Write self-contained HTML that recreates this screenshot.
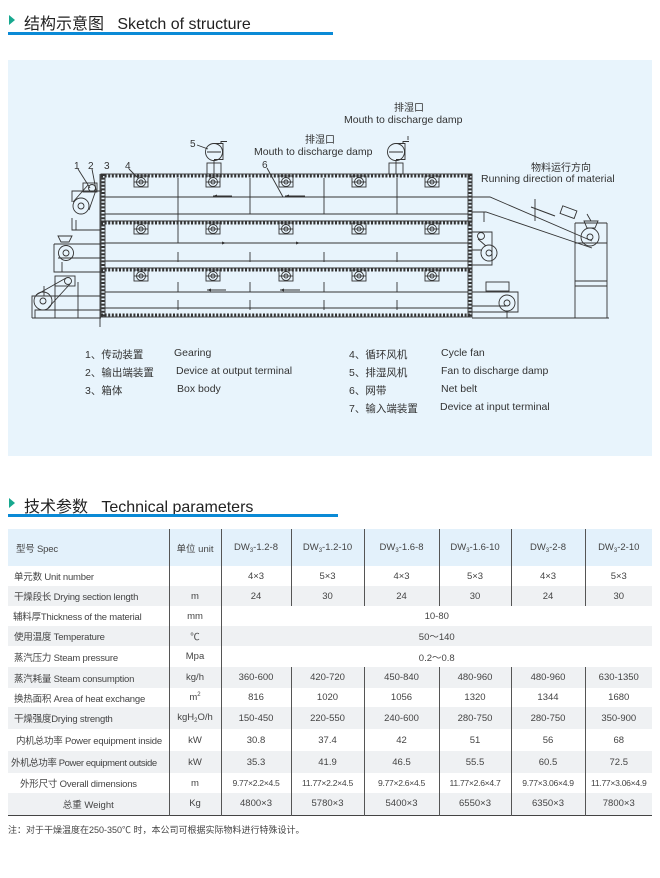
<!DOCTYPE html>
<html><head><meta charset="utf-8"><style>
*{margin:0;padding:0;box-sizing:border-box}
body{width:660px;height:878px;background:#fff;position:relative;font-family:"Liberation Sans","Noto Sans CJK SC",sans-serif;color:#333;overflow:hidden}
.h{position:absolute;left:8px;font-size:16px;color:#222;white-space:nowrap}
.tri{position:absolute;width:0;height:0;border-top:5px solid transparent;border-bottom:5px solid transparent;border-left:6px solid #17a88f}
.line{position:absolute;height:3px;background:#0a8ad6}
.panel{position:absolute;left:8px;top:60px;width:644px;height:396px;background:#e8f4fc}
.lg{position:absolute;font-size:10.5px;color:#333;white-space:nowrap}
table{position:absolute;left:8px;top:529px;width:644px;border-collapse:collapse;table-layout:fixed;font-size:9.5px;color:#444}
td{text-align:center;white-space:nowrap;padding:0;overflow:hidden}
td.f{text-align:left;padding-left:6px;letter-spacing:-0.2px}
tr.g td{background:#eff1f3}
tr.hd td{background:#e3f1fb;height:37px}
.v{border-left:1px solid #555}
sub{font-size:6px;vertical-align:-2px}
sup{font-size:6px;vertical-align:4px}
.s{font-size:8.6px;letter-spacing:-0.3px}
</style></head><body>
<div class="tri" style="left:9px;top:15px"></div>
<div class="h" style="left:24px;top:10px">结构示意图&nbsp;&nbsp; Sketch of structure</div>
<div class="line" style="left:8px;top:32px;width:325px"></div>
<div class="panel"></div>
<svg style="position:absolute;left:0;top:0" width="660" height="460" viewBox="0 0 660 460">
<defs><g id="fan" fill="none" stroke="#333" stroke-width="0.9"><rect x="-7" y="-6" width="14" height="11"/><circle r="4.5"/><circle r="2"/><line x1="-7" y1="0" x2="7" y2="0"/></g></defs>
<g fill="none" stroke="#333" stroke-width="0.9">
<rect x="101" y="174" width="371" height="143"/>
<line x1="105" y1="174" x2="105" y2="317"/><line x1="468" y1="174" x2="468" y2="317"/>
<g stroke-width="3" stroke-dasharray="2 1.6">
<line x1="101" y1="176" x2="472" y2="176"/><line x1="101" y1="223" x2="472" y2="223"/><line x1="101" y1="270" x2="472" y2="270"/><line x1="101" y1="315" x2="472" y2="315"/>
<line x1="103" y1="174" x2="103" y2="317"/><line x1="470" y1="174" x2="470" y2="317"/>
</g>
<line x1="101" y1="221" x2="472" y2="221"/><line x1="101" y1="268" x2="472" y2="268"/>
<line x1="105" y1="197" x2="468" y2="197"/><line x1="105" y1="214" x2="468" y2="214"/>
<line x1="105" y1="243" x2="468" y2="243"/><line x1="105" y1="261" x2="468" y2="261"/>
<line x1="105" y1="292" x2="468" y2="292"/><line x1="105" y1="308" x2="468" y2="308"/>
<line x1="178" y1="178" x2="178" y2="243"/><line x1="250" y1="178" x2="250" y2="214"/><line x1="324" y1="178" x2="324" y2="214"/><line x1="397" y1="178" x2="397" y2="214"/>
<line x1="178" y1="252" x2="178" y2="262"/><line x1="250" y1="252" x2="250" y2="262"/><line x1="324" y1="252" x2="324" y2="262"/><line x1="397" y1="252" x2="397" y2="262"/>
<line x1="178" y1="282" x2="178" y2="292"/><line x1="250" y1="282" x2="250" y2="292"/><line x1="324" y1="282" x2="324" y2="292"/><line x1="397" y1="282" x2="397" y2="292"/>
<line x1="178" y1="300" x2="178" y2="310"/><line x1="250" y1="300" x2="250" y2="310"/><line x1="324" y1="300" x2="324" y2="310"/><line x1="397" y1="300" x2="397" y2="310"/>
<line x1="100" y1="174" x2="100" y2="327"/>
<circle cx="214" cy="152" r="8.5"/><path d="M214 143.5 h9 v16 h-9 M221 143.5 v-2 h6 M207 152h14"/><rect x="207" y="163" width="14" height="11"/><line x1="214" y1="160" x2="214" y2="174"/>
<circle cx="396" cy="152" r="8.5"/><path d="M396 143.5 h9 v16 h-9 M403 143.5 v-2 h6 M389 152h14"/><rect x="389" y="163" width="14" height="11"/><line x1="396" y1="160" x2="396" y2="174"/><line x1="408" y1="140" x2="408" y2="136"/>
<line x1="78" y1="169" x2="90" y2="188"/><line x1="92" y1="169" x2="96" y2="190"/><line x1="129" y1="169" x2="138" y2="178"/><line x1="197" y1="145" x2="208" y2="149"/><line x1="267" y1="168" x2="283" y2="197"/>
<path d="M72 202 v-11 h30 M72 218 v12 h29"/><path d="M76 220 v10 h25"/>
<circle cx="81" cy="206" r="8"/><circle cx="81" cy="206" r="3"/><rect x="83" y="183" width="14" height="9"/><circle cx="92" cy="188" r="3.5"/>
<line x1="73" y1="202" x2="88" y2="185"/><line x1="89" y1="210" x2="96" y2="190"/>
<path d="M54 244 h47 M54 244 v28 h47 M58 258 h43 M62 262 v10"/>
<circle cx="66" cy="253" r="7.5"/><circle cx="66" cy="253" r="3"/><path d="M58 236 h14 l-3 6 h-8 z"/>
<path d="M32 318 v-22 h69 M35 318 v-8 h66 M44 286 v10 M55 281 v37 M78 282 v36 M32 296 h4"/>
<circle cx="43" cy="301" r="9"/><circle cx="43" cy="301" r="3"/><rect x="55" y="276" width="20" height="10"/><circle cx="68" cy="281" r="3.5"/>
<line x1="36" y1="295" x2="66" y2="278"/><line x1="48" y1="308" x2="70" y2="284"/>
<line x1="32" y1="318" x2="101" y2="318"/><line x1="472" y1="318" x2="609" y2="318"/>
<path d="M472 232 h20 v33 h-20 M472 250 h10"/><circle cx="489" cy="253" r="8"/><circle cx="489" cy="253" r="3"/><circle cx="481" cy="236" r="3.5"/><line x1="478" y1="239" x2="486" y2="246"/>
<path d="M472 292 h46 v20 h-46 M472 306 h34"/><rect x="486" y="282" width="23" height="9"/><circle cx="507" cy="303" r="8"/><circle cx="507" cy="303" r="3"/><line x1="507" y1="311" x2="507" y2="318"/>
<path d="M472 197 h18 L592 241 M472 212 h14 L592 248 M472 212 v10"/>
<path d="M484 212 v10 M535 221 v-22 M575 223 v95 M607 223 v95 M575 223 h32 M575 281 h32 M575 286 h32 M575 243 h32"/>
<circle cx="590" cy="237" r="9"/><circle cx="590" cy="237" r="3"/><path d="M584 221 h14 l-3 7 h-8 z M587 214 l4 7"/>
<rect x="561" y="208" width="15" height="8" transform="rotate(20 568 212)"/>
</g>
<use href="#fan" x="141" y="182"/><use href="#fan" x="213" y="182"/><use href="#fan" x="286" y="182"/><use href="#fan" x="359" y="182"/><use href="#fan" x="432" y="182"/>
<use href="#fan" x="141" y="229"/><use href="#fan" x="213" y="229"/><use href="#fan" x="286" y="229"/><use href="#fan" x="359" y="229"/><use href="#fan" x="432" y="229"/>
<use href="#fan" x="141" y="276"/><use href="#fan" x="213" y="276"/><use href="#fan" x="286" y="276"/><use href="#fan" x="359" y="276"/><use href="#fan" x="432" y="276"/>
<g stroke="#333" stroke-width="1.1">
<line x1="213" y1="196" x2="232" y2="196"/><line x1="285" y1="196" x2="305" y2="196"/>
<line x1="207" y1="243" x2="226" y2="243"/><line x1="281" y1="243" x2="300" y2="243"/>
<line x1="207" y1="290" x2="226" y2="290"/><line x1="280" y1="290" x2="300" y2="290"/>
<line x1="531" y1="207" x2="555" y2="216"/>
</g>
<g fill="#333">
<path d="M213 196 l4 -1.5 v3z M285 196 l4 -1.5 v3z M226 243 l-4 -1.5 v3z M300 243 l-4 -1.5 v3z M207 290 l4 -1.5 v3z M280 290 l4 -1.5 v3z"/>
</g>
<g font-family="Liberation Sans,Noto Sans CJK SC,sans-serif" font-size="10.5" fill="#333">
<text x="320" y="143" text-anchor="middle" font-size="10">排湿口</text>
<text x="254" y="155">Mouth to discharge damp</text>
<text x="409" y="111" text-anchor="middle" font-size="10">排湿口</text>
<text x="344" y="123">Mouth to discharge damp</text>
<text x="561" y="171" text-anchor="middle" font-size="10">物料运行方向</text>
<text x="481" y="182">Running direction of material</text>
<g font-size="10"><text x="74" y="169">1</text><text x="88" y="169">2</text><text x="104" y="169">3</text><text x="125" y="169">4</text><text x="190" y="147">5</text><text x="262" y="168">6</text></g>
</g>
</svg>
<div class="lg" style="left:85px;top:347px">1、传动装置</div><div class="lg" style="left:174px;top:347px">Gearing</div>
<div class="lg" style="left:85px;top:365px">2、输出端装置</div><div class="lg" style="left:176px;top:365px">Device at output terminal</div>
<div class="lg" style="left:85px;top:383px">3、箱体</div><div class="lg" style="left:177px;top:383px">Box body</div>
<div class="lg" style="left:349px;top:347px">4、循环风机</div><div class="lg" style="left:441px;top:347px">Cycle fan</div>
<div class="lg" style="left:349px;top:365px">5、排湿风机</div><div class="lg" style="left:441px;top:365px">Fan to discharge damp</div>
<div class="lg" style="left:349px;top:383px">6、网带</div><div class="lg" style="left:441px;top:383px">Net belt</div>
<div class="lg" style="left:349px;top:401px">7、输入端装置</div><div class="lg" style="left:440px;top:401px">Device at input terminal</div>

<div class="tri" style="left:9px;top:498px"></div>
<div class="h" style="left:24px;top:493px">技术参数&nbsp;&nbsp; Technical parameters</div>
<div class="line" style="left:8px;top:514px;width:330px"></div>

<table>
<colgroup><col style="width:161px"><col style="width:52px"><col style="width:70px"><col style="width:73px"><col style="width:75px"><col style="width:72px"><col style="width:74px"><col style="width:67px"></colgroup>
<tr class="hd"><td class="f" style="padding-left:8px">型号 Spec</td><td class="v">单位 unit</td><td class="v">DW<sub>3</sub>-1.2-8</td><td class="v">DW<sub>3</sub>-1.2-10</td><td class="v">DW<sub>3</sub>-1.6-8</td><td class="v">DW<sub>3</sub>-1.6-10</td><td class="v">DW<sub>3</sub>-2-8</td><td class="v">DW<sub>3</sub>-2-10</td></tr>
<tr style="height:20px"><td class="f">单元数 Unit number</td><td class="v"></td><td class="v">4×3</td><td class="v">5×3</td><td class="v">4×3</td><td class="v">5×3</td><td class="v">4×3</td><td class="v">5×3</td></tr>
<tr class="g" style="height:20px"><td class="f">干燥段长 Drying section length</td><td class="v">m</td><td class="v">24</td><td class="v">30</td><td class="v">24</td><td class="v">30</td><td class="v">24</td><td class="v">30</td></tr>
<tr style="height:20px"><td class="f" style="padding-left:5px">辅料厚Thickness of the material</td><td class="v">mm</td><td class="v" colspan="6">10-80</td></tr>
<tr class="g" style="height:20px"><td class="f">使用温度 Temperature</td><td class="v">℃</td><td class="v" colspan="6">50～140</td></tr>
<tr style="height:21px"><td class="f">蒸汽压力 Steam pressure</td><td class="v">Mpa</td><td class="v" colspan="6">0.2～0.8</td></tr>
<tr class="g" style="height:21px"><td class="f">蒸汽耗量 Steam consumption</td><td class="v">kg/h</td><td class="v">360-600</td><td class="v">420-720</td><td class="v">450-840</td><td class="v">480-960</td><td class="v">480-960</td><td class="v">630-1350</td></tr>
<tr style="height:19px"><td class="f">换热面积 Area of heat exchange</td><td class="v">m<sup>2</sup></td><td class="v">816</td><td class="v">1020</td><td class="v">1056</td><td class="v">1320</td><td class="v">1344</td><td class="v">1680</td></tr>
<tr class="g" style="height:22px"><td class="f">干燥强度Drying strength</td><td class="v">kgH<sub>2</sub>O/h</td><td class="v">150-450</td><td class="v">220-550</td><td class="v">240-600</td><td class="v">280-750</td><td class="v">280-750</td><td class="v">350-900</td></tr>
<tr style="height:22px"><td class="f" style="padding-left:8px">内机总功率 Power equipment inside</td><td class="v">kW</td><td class="v">30.8</td><td class="v">37.4</td><td class="v">42</td><td class="v">51</td><td class="v">56</td><td class="v">68</td></tr>
<tr class="g" style="height:22px"><td class="f" style="padding-left:3px;letter-spacing:-0.4px">外机总功率 Power equipment outside</td><td class="v">kW</td><td class="v">35.3</td><td class="v">41.9</td><td class="v">46.5</td><td class="v">55.5</td><td class="v">60.5</td><td class="v">72.5</td></tr>
<tr style="height:20px"><td class="f" style="padding-left:12px">外形尺寸 Overall dimensions</td><td class="v">m</td><td class="v s">9.77×2.2×4.5</td><td class="v s">11.77×2.2×4.5</td><td class="v s">9.77×2.6×4.5</td><td class="v s">11.77×2.6×4.7</td><td class="v s">9.77×3.06×4.9</td><td class="v s">11.77×3.06×4.9</td></tr>
<tr class="g" style="height:22px;border-bottom:1.5px solid #444"><td style="text-align:center">总重 Weight</td><td class="v">Kg</td><td class="v">4800×3</td><td class="v">5780×3</td><td class="v">5400×3</td><td class="v">6550×3</td><td class="v">6350×3</td><td class="v">7800×3</td></tr>
</table>
<div style="position:absolute;left:8px;top:823px;font-size:9px;color:#444;white-space:nowrap">注：对于干燥温度在250-350℃ 时，本公司可根据实际物料进行特殊设计。</div>
</body></html>
